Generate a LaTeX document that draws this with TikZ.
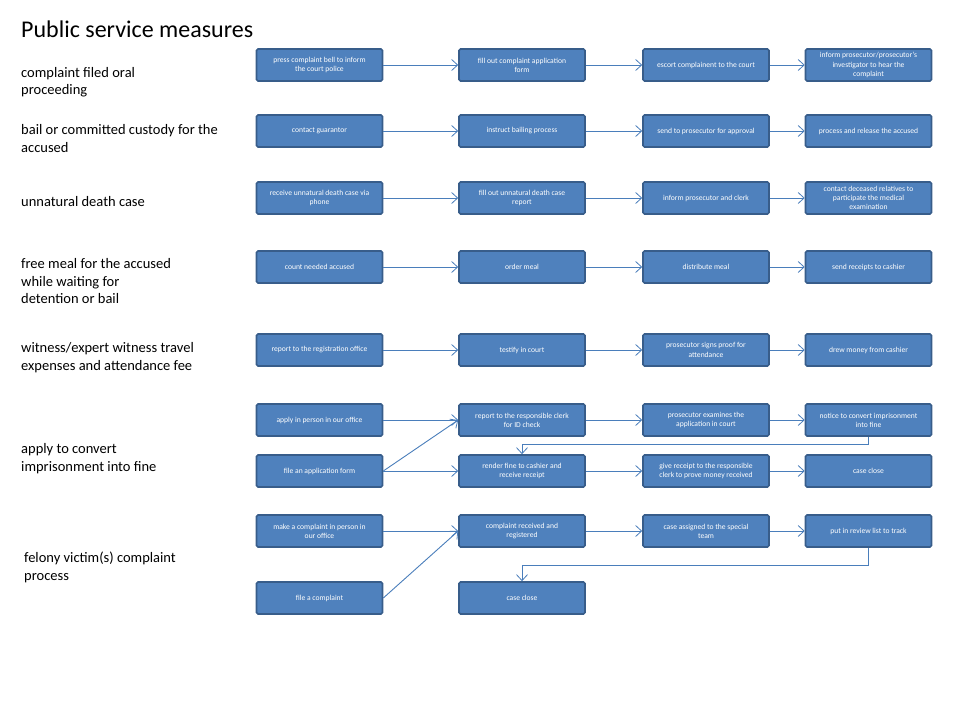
\documentclass[tikz,border=0pt]{standalone}
\usepackage{fontspec}
\setmainfont{Carlito}
\usetikzlibrary{arrows.meta}
\definecolor{boxfill}{HTML}{4F81BD}
\definecolor{boxline}{HTML}{385D8A}
\definecolor{arrline}{HTML}{4A7EBB}
\tikzset{
  stepbox/.style={draw=boxline, line width=1.6pt, fill=boxfill, rounded corners=1.5pt,
    minimum width=126pt, minimum height=32pt, inner sep=1pt, text=white,
    align=center, font=\fontsize{7.6}{9.2}\selectfont},
  rowlabel/.style={anchor=west, align=left, inner sep=0pt, text=black,
    font=\fontsize{14.5}{17.5}\selectfont},
  arr/.style={draw=arrline, line width=0.9pt, -{Straight Barb[length=6pt,width=11pt,line width=0.8pt]}},
}
\begin{document}
\begin{tikzpicture}[x=1pt,y=-1pt]
\useasboundingbox (0,0) rectangle (960,720);
\node[anchor=west, inner sep=0pt, font=\fontsize{24}{28}\selectfont] (title) at (21,29) {Public service measures};

\node[rowlabel] (l1) at (21,82) {complaint filed oral\\proceeding};
\node[rowlabel] (l2) at (21,138.5) {bail or committed custody for the\\accused};
\node[rowlabel] (l3) at (21,202) {unnatural death case};
\node[rowlabel] (l4) at (21,281.5) {free meal for the accused\\while waiting for\\detention or bail};
\node[rowlabel] (l5) at (21,357.5) {witness/expert witness travel\\expenses and attendance fee};
\node[rowlabel] (l6) at (21,458.5) {apply to convert\\imprisonment into fine};
\node[rowlabel] (l7) at (24,567.5) {felony victim(s) complaint\\process};

% row 1
\node[stepbox] (a1) at (319.5,65) {press complaint bell to inform\\the court police};
\node[stepbox] (a2) at (522,65) {fill out complaint application\\form};
\node[stepbox] (a3) at (706,65) {escort complainent to the court};
\node[stepbox] (a4) at (868.5,65) {inform prosecutor/prosecutor's\\investigator to hear the\\complaint};
% row 2
\node[stepbox] (b1) at (319.5,131) {contact guarantor};
\node[stepbox] (b2) at (522,131) {instruct bailing process};
\node[stepbox] (b3) at (706,131) {send to prosecutor for approval};
\node[stepbox] (b4) at (868.5,131) {process and release the accused};
% row 3
\node[stepbox] (c1) at (319.5,198) {receive unnatural death case via\\phone};
\node[stepbox] (c2) at (522,198) {fill out unnatural death case\\report};
\node[stepbox] (c3) at (706,198) {inform prosecutor and clerk};
\node[stepbox] (c4) at (868.5,198) {contact deceased relatives to\\participate the medical\\examination};
% row 4
\node[stepbox] (d1) at (319.5,267) {count needed accused};
\node[stepbox] (d2) at (522,267) {order meal};
\node[stepbox] (d3) at (706,267) {distribute meal};
\node[stepbox] (d4) at (868.5,267) {send receipts to cashier};
% row 5
\node[stepbox] (e1) at (319.5,350) {report to the registration office};
\node[stepbox] (e2) at (522,350) {testify in court};
\node[stepbox] (e3) at (706,350) {prosecutor signs proof for\\attendance};
\node[stepbox] (e4) at (868.5,350) {drew money from cashier};
% row 6
\node[stepbox] (f1) at (319.5,420) {apply in person in our office};
\node[stepbox] (f2) at (522,420) {report to the responsible clerk\\for ID check};
\node[stepbox] (f3) at (706,420) {prosecutor examines the\\application in court};
\node[stepbox] (f4) at (868.5,420) {notice to convert imprisonment\\into fine};
\node[stepbox] (g1) at (319.5,471) {file an application form};
\node[stepbox] (g2) at (522,471) {render fine to cashier and\\receive receipt};
\node[stepbox] (g3) at (706,471) {give receipt to the responsible\\clerk to prove money received};
\node[stepbox] (g4) at (868.5,471) {case close};
% row 7
\node[stepbox] (h1) at (319.5,531) {make a complaint in person in\\our office};
\node[stepbox] (h2) at (522,531) {complaint received and\\registered};
\node[stepbox] (h3) at (706,531) {case assigned to the special\\team};
\node[stepbox] (h4) at (868.5,531) {put in review list to track};
\node[stepbox] (k1) at (319.5,598) {file a complaint};
\node[stepbox] (k2) at (522,598) {case close};

% connectors
\foreach \r in {a,b,c,d,e,f,g,h}{
  \draw[arr] (\r1) -- (\r2);
  \draw[arr] (\r2) -- (\r3);
  \draw[arr] (\r3) -- (\r4);
}
\draw[arr] (g1.east) -- (f2.west);
\draw[arr] (k1.east) -- (h2.west);
\draw[arr] (f4.south) -- ++(0,8) -| (g2.north);
\draw[arr] (h4.south) -- ++(0,18) -| (k2.north);
\end{tikzpicture}
\end{document}
